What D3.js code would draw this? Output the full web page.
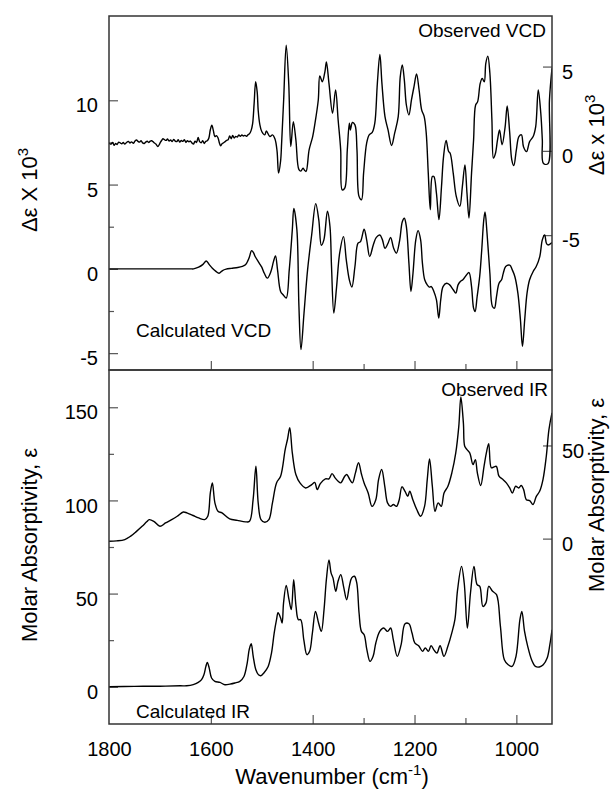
<!DOCTYPE html>
<html><head><meta charset="utf-8">
<script src="https://cdn.jsdelivr.net/npm/d3@7"></script>
<style>
body{margin:0;background:#fff}
text{font-family:"Liberation Sans",Arial,sans-serif;fill:#000}
</style>
</head><body>
<svg id="c" width="611" height="791"></svg>
<script>
// ---------- DATA (wavenumber cm-1, value) ----------
// Observed VCD, in right-axis units (Δε x 10^3)
const observedVCD = [
[1800,0.46],[1796,0.40],[1793,0.50],[1790,0.33],[1787,0.44],[1784,0.38],[1781,0.52],[1778,0.47],[1775,0.42],[1772,0.50],
[1769,0.40],[1766,0.48],[1762,0.56],[1759,0.47],[1756,0.53],[1752,0.45],[1749,0.58],[1746,0.64],[1743,0.56],[1740,0.52],
[1737,0.60],[1734,0.47],[1731,0.44],[1728,0.52],[1725,0.57],[1722,0.50],[1719,0.58],[1716,0.60],[1712,0.50],[1708,0.40],
[1704,0.26],[1700,0.45],[1697,0.60],[1694,0.72],[1691,0.66],[1688,0.62],[1685,0.70],[1682,0.58],[1679,0.64],[1676,0.55],
[1673,0.68],[1670,0.58],[1667,0.55],[1664,0.66],[1661,0.52],[1658,0.62],[1655,0.56],[1652,0.66],[1649,0.50],[1646,0.60],
[1643,0.54],[1640,0.58],[1637,0.46],[1634,0.40],[1631,0.58],[1628,0.50],[1625,0.80],[1622,0.55],[1619,0.48],[1616,0.60],
[1613,0.44],[1610,0.56],[1607,0.60],[1604,0.75],[1601,1.25],[1598,1.52],[1595,1.20],[1592,0.85],[1589,0.90],[1586,0.78],
[1583,0.45],[1581,0.30],[1578,0.42],[1575,0.48],[1572,0.55],[1569,0.62],[1566,0.66],[1563,0.88],[1560,0.72],[1557,0.92],
[1554,0.76],[1551,0.86],[1548,0.82],[1545,0.95],[1542,0.86],[1539,0.94],[1536,0.88],[1533,0.92],[1530,0.86],[1527,0.95],
[1524,1.02],[1521,1.20],[1518,1.60],[1515,2.80],[1512,4.10],[1509,3.50],[1507,2.40],[1504,1.60],[1500,1.15],[1494,0.95],
[1491,1.18],[1484,0.85],[1479,0.95],[1474,0.70],[1470,0.00],[1467,-1.32],[1463,-0.60],[1461,0.46],[1457,3.02],[1452,6.27],
[1447,4.00],[1443,0.25],[1438,1.73],[1433,0.65],[1427,-1.12],[1423,-1.20],[1419,-1.03],[1416,-1.15],[1413,-1.22],[1407,0.06],
[1400,0.85],[1396,1.54],[1389,3.02],[1386,4.44],[1381,4.10],[1376,4.69],[1373,5.27],[1368,4.00],[1361,2.23],[1355,3.61],
[1350,1.83],[1345,0.06],[1342,-2.31],[1337,-2.21],[1332,0.06],[1328,1.64],[1326,1.24],[1322,1.68],[1317,1.54],[1313,0.06],
[1309,-2.70],[1304,-2.90],[1300,-1.32],[1294,0.46],[1289,0.95],[1283,1.09],[1278,1.64],[1273,4.00],[1268,5.72],[1264,4.00],
[1258,2.03],[1252,1.24],[1245,0.32],[1239,1.05],[1232,2.03],[1228,4.40],[1224,5.09],[1220,4.20],[1216,2.72],[1211,2.13],
[1206,3.02],[1201,3.81],[1196,4.56],[1191,3.61],[1186,2.43],[1181,2.03],[1177,1.05],[1173,-1.32],[1169,-3.49],[1165,-1.52],
[1162,-1.52],[1157,-2.50],[1152,-4.08],[1147,-2.11],[1143,-0.34],[1138,0.61],[1133,-0.04],[1130,-0.14],[1124,-1.32],[1118,-2.70],
[1111,-3.29],[1106,-2.11],[1101,-0.83],[1097,-2.50],[1093,-3.98],[1088,-1.32],[1084,0.65],[1080,2.72],[1076,2.92],[1071,4.00],
[1067,4.30],[1063,4.10],[1060,5.19],[1056,5.62],[1052,4.60],[1048,1.83],[1045,-0.43],[1041,-0.14],[1037,0.65],[1033,1.24],
[1028,0.36],[1022,1.44],[1018,2.66],[1013,1.05],[1009,-0.53],[1005,-0.87],[1000,0.06],[995,0.85],[990,0.95],[986,0.25],
[980,-0.04],[974,0.55],[967,0.85],[962,1.44],[957,3.61],[952,2.23],[949,0.65],[947,-0.73],[938,-0.77],[935,3.02],[930,4.90]
];
// Calculated VCD, left-axis units (Δε X 10^3)
const calculatedVCD = [
[1800,0],[1700,0],[1640,0],[1634,0],[1624,0.10],[1616,0.25],[1609,0.47],[1603,0.25],[1597,0.04],[1590,-0.15],
[1584,-0.26],[1577,-0.10],[1570,-0.02],[1560,0.03],[1547,0.08],[1538,0.15],[1532,0.24],[1527,0.50],[1524,0.73],[1520,1.08],
[1516,0.95],[1513,0.73],[1505,0.34],[1500,0.10],[1495,-0.26],[1489,-0.55],[1482,-0.16],[1477,0.43],[1473,0.77],[1469,-0.06],
[1463,-1.34],[1458,-1.54],[1452,-1.73],[1446,-0.06],[1440,2.31],[1437,3.59],[1431,2.31],[1427,-2.23],[1423,-4.79],[1417,-2.62],
[1410,-0.06],[1402,2.01],[1394,3.87],[1388,2.90],[1383,1.40],[1378,1.72],[1371,3.42],[1366,2.50],[1363,0.14],[1358.5,-2.62],
[1353,-1.05],[1347,0.93],[1339.5,1.91],[1334,0.53],[1328,-0.65],[1323,-1.08],[1317,0.14],[1311,1.52],[1306,1.62],[1299,2.35],
[1294,1.72],[1288,0.73],[1281,1.42],[1275,1.87],[1268,2.01],[1263,1.72],[1258,1.22],[1252,1.52],[1247,1.87],[1241,1.22],
[1235.5,0.93],[1229,1.72],[1224,2.80],[1220,3.00],[1216,2.50],[1211,0.34],[1207,-1.34],[1203,-0.26],[1197.5,1.72],[1193,2.27],
[1188,1.72],[1184.5,0.34],[1180,-0.65],[1175,-0.95],[1171,-1.08],[1167,-1.05],[1162,-1.34],[1157,-1.83],[1152.4,-2.92],[1148.5,-1.83],
[1144,-1.05],[1137,-0.85],[1131,-0.95],[1124,-1.24],[1119,-1.44],[1114.5,-0.95],[1110,-0.75],[1105,-0.65],[1098,-0.36],[1093,-0.22],
[1088,-1.05],[1084,-2.33],[1081,-2.53],[1077,-1.64],[1072,-0.45],[1068,1.12],[1064,2.90],[1061.5,3.37],[1057.6,2.11],[1052,-0.26],
[1047,-2.23],[1043,-2.33],[1039,-1.64],[1034,-0.85],[1029,-0.65],[1026,-0.30],[1021,0.14],[1013,0.22],[1008,-0.06],[1003,-0.45],
[997,-1.44],[992,-3.02],[988,-4.60],[983.6,-3.02],[979,-1.44],[974,-0.65],[967,-0.16],[961,0.14],[954,0.73],[949,1.72],
[944.4,2.01],[941,1.52],[938,1.42],[930,1.56]
];
// Observed IR, right-axis units (molar absorptivity)
const observedIR = [
[1800,-1.4],[1785,-1.2],[1769,-0.5],[1758,1.2],[1746,3.9],[1735,6.6],[1726,9.0],[1721,10.2],[1712,9.3],[1700,6.6],
[1689,8.4],[1677,10.2],[1666,12.0],[1654,14.3],[1647,13.8],[1635,12.4],[1624,11.1],[1612,10.2],[1606,12.0],[1601,24.5],
[1597,29.9],[1592,19.2],[1586,14.7],[1578,13.8],[1563,10.6],[1548,9.8],[1532,9.0],[1524,9.3],[1517,20.9],[1511.5,38.8],
[1507,19.2],[1501.5,10.2],[1494,8.8],[1486,10.2],[1479,19.2],[1471,29.9],[1463,33.5],[1454,47.8],[1449.5,53.2],[1445,59.5],
[1440,46.0],[1433,34.4],[1425,29.9],[1414,27.2],[1402,29.0],[1396,30.2],[1391,26.3],[1385,29.5],[1375,32.1],[1368,32.1],
[1362,34.9],[1356,32.6],[1350,30.8],[1345,29.9],[1337,33.5],[1333,34.4],[1327,31.7],[1322,29.9],[1316,35.3],[1310,40.7],
[1304,34.4],[1299,29.9],[1291,24.5],[1283.5,17.3],[1276,20.9],[1270.6,31.7],[1264.5,37.1],[1258.4,28.1],[1253,19.2],[1247,17.3],
[1241.5,18.3],[1235.4,17.3],[1230,20.9],[1224.7,27.8],[1218.6,25.4],[1213.3,22.7],[1209.4,25.4],[1203.3,20.9],[1195.6,15.6],[1188,12.0],
[1180.3,17.3],[1175,31.7],[1170.5,42.8],[1165,28.1],[1159.7,14.7],[1153.6,19.2],[1147.5,17.3],[1142,24.5],[1134.4,28.1],[1126.7,35.3],
[1119,46.0],[1113,60.4],[1109,76.0],[1104,62.0],[1101.4,49.6],[1096.9,47.8],[1091.6,46.0],[1085.1,39.7],[1080.5,42.4],[1076.6,35.3],
[1070,28.5],[1063.5,38.8],[1058.9,46.0],[1054.3,51.0],[1049.1,38.0],[1043.9,38.5],[1039.3,38.8],[1034.1,33.5],[1026.2,31.7],[1019.7,29.9],
[1013.1,27.2],[1007.9,24.5],[1001.4,28.1],[995.5,27.2],[990.3,28.5],[985.7,26.3],[980.4,20.9],[973.9,20.4],[967.3,18.3],[960.8,22.7],
[954.3,25.4],[947.7,31.7],[941.2,44.2],[936,58.5],[930,67.5]
];
// Calculated IR, left-axis units
const calculatedIR = [
[1800,0],[1750,0.2],[1700,0.3],[1660,0.5],[1647.6,0.5],[1634.6,1.1],[1624.7,2.3],[1618.2,3.8],[1613.6,6.4],[1609.7,10.9],
[1607,13.1],[1603.2,10.0],[1598.6,4.7],[1592.1,2.9],[1582.2,2.3],[1572.4,1.1],[1562.6,1.4],[1552.8,2.0],[1543,2.9],[1535,5.5],
[1528.6,12.7],[1524.7,19.9],[1520.7,23.1],[1516.8,16.3],[1511.6,9.1],[1506.4,6.4],[1501.8,5.9],[1495.9,7.4],[1487.4,10.9],[1480.9,18.1],
[1475.6,28.8],[1471,36.0],[1468,39.7],[1463,36.9],[1460,34.2],[1457.2,45.0],[1452,54.4],[1446.5,46.7],[1442,41.4],[1437.3,57.5],
[1432.7,43.1],[1428.1,36.0],[1423.5,36.0],[1417.4,25.2],[1411.3,17.2],[1406,19.0],[1400.6,28.8],[1394.5,40.4],[1388.4,34.2],[1383,29.7],
[1377.7,41.4],[1373.1,57.5],[1368,68.0],[1363.9,61.1],[1360.1,58.4],[1354.7,51.2],[1350.2,56.6],[1344.8,60.2],[1339.4,53.9],[1333.3,46.7],
[1328,53.9],[1323.4,58.4],[1318,59.3],[1313.4,55.7],[1308.9,39.6],[1304.3,29.7],[1298.9,27.9],[1293.6,19.9],[1287.4,13.6],[1281.3,16.3],
[1276,23.5],[1268.3,29.7],[1260.7,31.5],[1253,29.7],[1246.9,31.5],[1241.6,25.2],[1233.9,16.3],[1226.3,22.6],[1218.6,33.8],[1211,33.8],
[1204.9,28.8],[1199.5,23.5],[1191.9,22.0],[1184.2,19.0],[1178.9,20.8],[1172.8,19.0],[1167.4,22.0],[1161.3,19.5],[1156,18.1],[1149.8,22.0],
[1142.2,16.3],[1134.5,21.7],[1126.9,28.8],[1120.7,36.0],[1115.4,52.1],[1107.7,64.6],[1102.4,55.7],[1096.2,31.5],[1090.1,50.3],[1083.2,64.6],
[1077.1,54.8],[1071.8,53.9],[1065.7,43.1],[1059.6,45.0],[1054.2,53.9],[1046.6,51.2],[1038.9,49.4],[1031.3,32.4],[1023.6,14.5],[1016,11.8],
[1008.3,10.9],[1000.7,16.3],[993,36.0],[989.2,40.4],[983.9,29.7],[977.7,21.7],[970.1,14.5],[962.5,10.9],[954.8,10.6],[947.2,11.8],
[939.5,15.4],[934.2,22.6],[930,30.6]
];
// Ticks
const xTicks = [1800,1600,1400,1200,1000];
const xMinorTicks = [1300,1100];
const vcdLeftTicks = [-5,0,5,10];
const vcdLeftMinor = [-2.5,2.5,7.5];
const vcdRightTicks = [-5,0,5];
const irLeftTicks = [0,50,100,150];
const irLeftMinor = [25,75,125];
const irRightTicks = [0,50];
// Axis ranges and offsets between left and right axes
const xDomain = [1800,930];
const vcdLeftDomain = [-6,15];
const vcdRightOffset = 7;      // right axis 0 = left axis 7
const irLeftDomain = [-20,170];
const irRightOffset = 79.5;    // right axis 0 = left axis 79.5
// Labels
const labels = {obsVCD:"Observed VCD", calcVCD:"Calculated VCD", obsIR:"Observed IR", calcIR:"Calculated IR"};

// ---------- DRAW ----------
const svg = d3.select("#c");
const L=109, R=552, T=16, M=370, B=724;
const x = d3.scaleLinear().domain(xDomain).range([L,R]);
const yTop = d3.scaleLinear().domain(vcdLeftDomain).range([M,T]);
const yTopR = d3.scaleLinear().domain(vcdLeftDomain.map(d=>d-vcdRightOffset)).range([M,T]);
const yBot = d3.scaleLinear().domain(irLeftDomain).range([B,M]);
const yBotR = d3.scaleLinear().domain(irLeftDomain.map(d=>d-irRightOffset)).range([B,M]);

const defs = svg.append("defs");
defs.append("clipPath").attr("id","cTop").append("rect").attr("x",L).attr("y",T).attr("width",R-L).attr("height",M-T);
defs.append("clipPath").attr("id","cBot").append("rect").attr("x",L).attr("y",M).attr("width",R-L).attr("height",B-M);

const fmt = d => String(d);
function styleAxis(g){
  g.select(".domain").remove();
  g.selectAll(".tick line").attr("stroke","#555").attr("stroke-width",1.2);
  g.selectAll(".tick text").attr("font-size",20).attr("font-family",'"Liberation Sans",Arial,sans-serif').attr("fill","#000");
}
// left axes
svg.append("g").attr("transform",`translate(${L},0)`)
  .call(d3.axisLeft(yTop).tickValues(vcdLeftTicks).tickSizeInner(-9).tickSizeOuter(0).tickPadding(11).tickFormat(fmt))
  .call(styleAxis).call(g=>g.selectAll(".tick text").attr("dy","0.58em"));
svg.append("g").attr("transform",`translate(${L},0)`)
  .call(d3.axisLeft(yTop).tickValues(vcdLeftMinor).tickSizeInner(-5).tickSizeOuter(0).tickFormat(""))
  .call(styleAxis);
svg.append("g").attr("transform",`translate(${L},0)`)
  .call(d3.axisLeft(yBot).tickValues(irLeftTicks).tickSizeInner(-9).tickSizeOuter(0).tickPadding(11).tickFormat(fmt))
  .call(styleAxis).call(g=>g.selectAll(".tick text").attr("dy","0.58em"));
svg.append("g").attr("transform",`translate(${L},0)`)
  .call(d3.axisLeft(yBot).tickValues(irLeftMinor).tickSizeInner(-5).tickSizeOuter(0).tickFormat(""))
  .call(styleAxis);
// right axes
svg.append("g").attr("transform",`translate(${R},0)`)
  .call(d3.axisRight(yTopR).tickValues(vcdRightTicks).tickSizeInner(-9).tickSizeOuter(0).tickPadding(10).tickFormat(fmt))
  .call(styleAxis).call(g=>g.selectAll(".tick text").attr("dy","0.58em"));
svg.append("g").attr("transform",`translate(${R},0)`)
  .call(d3.axisRight(yBotR).tickValues(irRightTicks).tickSizeInner(-9).tickSizeOuter(0).tickPadding(10).tickFormat(fmt))
  .call(styleAxis).call(g=>g.selectAll(".tick text").attr("dy","0.58em"));
// x axes
[M,B].forEach((yy,i)=>{
  svg.append("g").attr("transform",`translate(0,${yy})`)
    .call(d3.axisBottom(x).tickValues(xTicks.filter(t=>t!==1800)).tickSizeInner(-9).tickSizeOuter(0).tickFormat(""))
    .call(styleAxis);
  svg.append("g").attr("transform",`translate(0,${yy})`)
    .call(d3.axisBottom(x).tickValues(xMinorTicks).tickSizeInner(-6).tickSizeOuter(0).tickFormat(""))
    .call(styleAxis);
});
svg.append("g").attr("transform",`translate(0,${B})`)
  .call(d3.axisBottom(x).tickValues(xTicks).tickSize(0).tickPadding(18).tickFormat(fmt))
  .call(styleAxis);

// curves
const lineTop = (sc)=>d3.line().x(d=>x(d[0])).y(d=>sc(d[1])).curve(d3.curveCatmullRom.alpha(0.5));
const gTop = svg.append("g").attr("clip-path","url(#cTop)");
const gBot = svg.append("g").attr("clip-path","url(#cBot)");
const ls = {fill:"none",stroke:"#000","stroke-width":1.4,"stroke-linejoin":"round"};
function drawLine(g,data,sc){
  const p=g.append("path").datum(data).attr("d",lineTop(sc));
  Object.entries(ls).forEach(([k,v])=>p.attr(k,v));
}
drawLine(gTop,observedVCD,yTopR);
drawLine(gTop,calculatedVCD,yTop);
drawLine(gBot,observedIR,yBotR);
drawLine(gBot,calculatedIR,yBot);

// frames
[[T,M],[M,B]].forEach(([a,b])=>{
  svg.append("rect").attr("x",L).attr("y",a).attr("width",R-L).attr("height",b-a)
    .attr("fill","none").attr("stroke","#333").attr("stroke-width",1.5);
});

// in-plot labels
const lab=(t,xx,yy,anchor)=>svg.append("text").attr("x",xx).attr("y",yy).attr("text-anchor",anchor).attr("font-size",19).text(t);
lab(labels.obsVCD,546,37,"end");
lab(labels.calcVCD,136,337,"start");
lab(labels.obsIR,548,396,"end");
lab(labels.calcIR,136,718,"start");

// axis titles
function vtitle(xx,yy,main,sup){
  const t=svg.append("text").attr("transform",`translate(${xx},${yy}) rotate(-90)`)
    .attr("text-anchor","middle").attr("font-size",22);
  t.append("tspan").text(main);
  if(sup){ t.append("tspan").attr("font-size",15).attr("dy",-9).text(sup); }
}
vtitle(37,190,"Δε X 10","3");
vtitle(37,545,"Molar Absorptivity, ε",null);
vtitle(604,135,"Δε x 10","3");
vtitle(604,495,"Molar Absorptivity, ε",null);
const xt=svg.append("text").attr("x",332).attr("y",784).attr("text-anchor","middle").attr("font-size",22);
xt.append("tspan").text("Wavenumber (cm");
xt.append("tspan").attr("font-size",15).attr("dy",-9).text("-1");
xt.append("tspan").attr("dy",9).text(")");
</script>
</body></html>
